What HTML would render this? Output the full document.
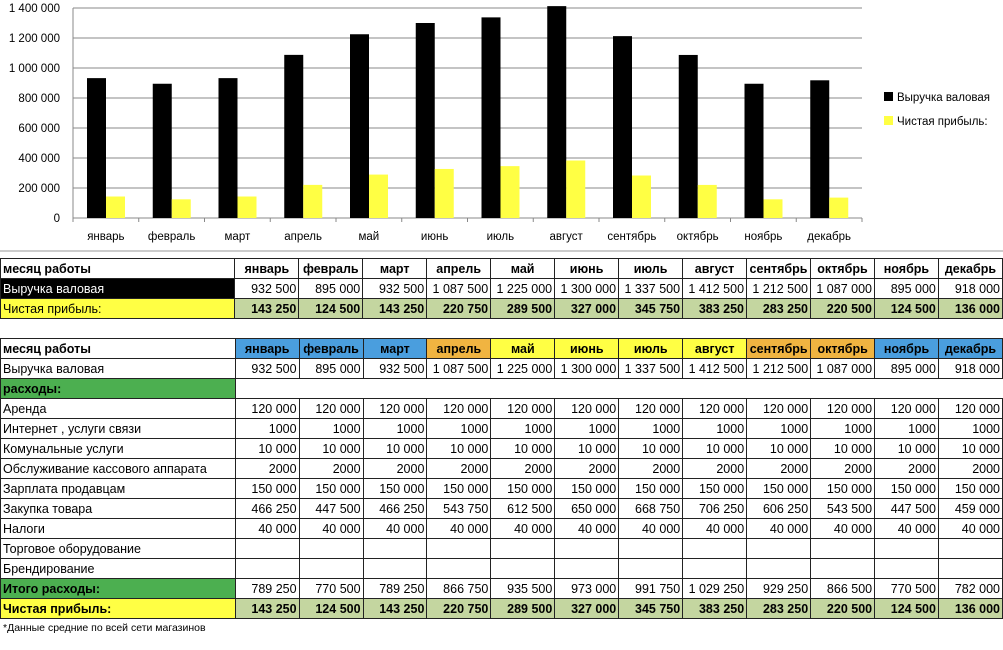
<!DOCTYPE html>
<html><head><meta charset="utf-8"><style>
body{margin:0;width:1003px;height:650px;background:#fff;overflow:hidden;font-family:"Liberation Sans","DejaVu Sans",sans-serif;}
#chart{position:absolute;left:0;top:0}
table{position:absolute;left:0;border-collapse:collapse;table-layout:fixed;font-size:12.5px}
td{height:19px;padding:0 2px;border:1px solid #222;white-space:nowrap;overflow:hidden;text-align:right}
td.l{text-align:left;width:230px}
.h td{font-weight:bold;text-align:center}
.h td.l{text-align:left}
.blk td.l{background:#000;color:#fff}
.yl td.l{background:#ffff44}
.yl td{background:#c4d6a0;font-weight:bold}
.gr td.l{background:#4caf50;font-weight:bold}
.b{background:#4a9ede}.o{background:#f0b441}.y{background:#ffff44}
</style></head><body>
<svg id="chart" width="1003" height="252">
<line x1="0" y1="251" x2="1003" y2="251" stroke="#999"/>
<g id="g"></g>
<g>
<rect x="884" y="92" width="9" height="9" fill="#000"/>
<text x="897" y="101" font-size="11.5">Выручка валовая</text>
<rect x="884" y="116" width="9" height="9" fill="#ffff44"/>
<text x="897" y="125" font-size="11.5">Чистая прибыль:</text>
</g>
</svg>
<script>
const months=["январь","февраль","март","апрель","май","июнь","июль","август","сентябрь","октябрь","ноябрь","декабрь"];
const revenue=[932500,895000,932500,1087500,1225000,1300000,1337500,1412500,1212500,1087000,895000,918000];
const profit=[143250,124500,143250,220750,289500,327000,345750,383250,283250,220500,124500,136000];
const ticks=[0,200000,400000,600000,800000,1000000,1200000,1400000];
const tickLabels=["0","200 000","400 000","600 000","800 000","1 000 000","1 200 000","1 400 000"];
const NS="http://www.w3.org/2000/svg",g=document.getElementById('g');
const X0=73,X1=862,Y0=218,Y1=8,cw=(X1-X0)/months.length;
const y=v=>Y0-(v/1400000)*(Y0-Y1);
function mk(t,a){const e=document.createElementNS(NS,t);for(const k in a)e.setAttribute(k,a[k]);g.appendChild(e);return e;}
ticks.forEach((t,i)=>{const l=mk('line',{x1:X0,x2:X1,y1:y(t),y2:y(t),stroke:'#888'});


const tx=mk('text',{x:60,y:y(t)+4,'text-anchor':'end','font-size':11.5});tx.textContent=tickLabels[i];

});
mk('line',{x1:X0,x2:X0,y1:Y1,y2:Y0+4,stroke:'#888'});
months.forEach((m,i)=>{const cx=X0+i*cw;
const tk=mk('line',{x1:cx+cw,x2:cx+cw,y1:Y0,y2:Y0+4,stroke:'#888'});


const b=mk('rect',{x:cx+14,y:y(revenue[i]),width:19,height:Y0-y(revenue[i]),fill:'#000'});


const p=mk('rect',{x:cx+33,y:y(profit[i]),width:19,height:Y0-y(profit[i]),fill:'#ffff44'});


const t=mk('text',{x:cx+cw/2,y:240,'text-anchor':'middle','font-size':11.5});t.textContent=m;

});
</script>

<table style="top:258px">
<colgroup><col style="width:235px"><col span="12" style="width:64px"></colgroup>
<tr class="h"><td class="l">месяц работы</td><td>январь</td><td>февраль</td><td>март</td><td>апрель</td><td>май</td><td>июнь</td><td>июль</td><td>август</td><td>сентябрь</td><td>октябрь</td><td>ноябрь</td><td>декабрь</td></tr>
<tr class="blk"><td class="l">Выручка валовая</td><td>932 500</td><td>895 000</td><td>932 500</td><td>1 087 500</td><td>1 225 000</td><td>1 300 000</td><td>1 337 500</td><td>1 412 500</td><td>1 212 500</td><td>1 087 000</td><td>895 000</td><td>918 000</td></tr>
<tr class="yl"><td class="l" style="font-weight:normal">Чистая прибыль:</td><td>143 250</td><td>124 500</td><td>143 250</td><td>220 750</td><td>289 500</td><td>327 000</td><td>345 750</td><td>383 250</td><td>283 250</td><td>220 500</td><td>124 500</td><td>136 000</td></tr>
</table>

<table style="top:338px">
<colgroup><col style="width:235px"><col span="12" style="width:64px"></colgroup>
<tr class="h"><td class="l">месяц работы</td><td class="b">январь</td><td class="b">февраль</td><td class="b">март</td><td class="o">апрель</td><td class="y">май</td><td class="y">июнь</td><td class="y">июль</td><td class="y">август</td><td class="o">сентябрь</td><td class="o">октябрь</td><td class="b">ноябрь</td><td class="b">декабрь</td></tr>
<tr><td class="l">Выручка валовая</td><td>932 500</td><td>895 000</td><td>932 500</td><td>1 087 500</td><td>1 225 000</td><td>1 300 000</td><td>1 337 500</td><td>1 412 500</td><td>1 212 500</td><td>1 087 000</td><td>895 000</td><td>918 000</td></tr>
<tr class="gr"><td class="l">расходы:</td><td colspan="12" style="border:none"></td></tr>
<tr><td class="l">Аренда</td><td>120 000</td><td>120 000</td><td>120 000</td><td>120 000</td><td>120 000</td><td>120 000</td><td>120 000</td><td>120 000</td><td>120 000</td><td>120 000</td><td>120 000</td><td>120 000</td></tr>
<tr><td class="l">Интернет , услуги связи</td><td>1000</td><td>1000</td><td>1000</td><td>1000</td><td>1000</td><td>1000</td><td>1000</td><td>1000</td><td>1000</td><td>1000</td><td>1000</td><td>1000</td></tr>
<tr><td class="l">Комунальные услуги</td><td>10 000</td><td>10 000</td><td>10 000</td><td>10 000</td><td>10 000</td><td>10 000</td><td>10 000</td><td>10 000</td><td>10 000</td><td>10 000</td><td>10 000</td><td>10 000</td></tr>
<tr><td class="l">Обслуживание кассового аппарата</td><td>2000</td><td>2000</td><td>2000</td><td>2000</td><td>2000</td><td>2000</td><td>2000</td><td>2000</td><td>2000</td><td>2000</td><td>2000</td><td>2000</td></tr>
<tr><td class="l">Зарплата продавцам</td><td>150 000</td><td>150 000</td><td>150 000</td><td>150 000</td><td>150 000</td><td>150 000</td><td>150 000</td><td>150 000</td><td>150 000</td><td>150 000</td><td>150 000</td><td>150 000</td></tr>
<tr><td class="l">Закупка товара</td><td>466 250</td><td>447 500</td><td>466 250</td><td>543 750</td><td>612 500</td><td>650 000</td><td>668 750</td><td>706 250</td><td>606 250</td><td>543 500</td><td>447 500</td><td>459 000</td></tr>
<tr><td class="l">Налоги</td><td>40 000</td><td>40 000</td><td>40 000</td><td>40 000</td><td>40 000</td><td>40 000</td><td>40 000</td><td>40 000</td><td>40 000</td><td>40 000</td><td>40 000</td><td>40 000</td></tr>
<tr><td class="l">Торговое оборудование</td><td></td><td></td><td></td><td></td><td></td><td></td><td></td><td></td><td></td><td></td><td></td><td></td></tr>
<tr><td class="l">Брендирование</td><td></td><td></td><td></td><td></td><td></td><td></td><td></td><td></td><td></td><td></td><td></td><td></td></tr>
<tr class="gr"><td class="l">Итого расходы:</td><td>789 250</td><td>770 500</td><td>789 250</td><td>866 750</td><td>935 500</td><td>973 000</td><td>991 750</td><td>1 029 250</td><td>929 250</td><td>866 500</td><td>770 500</td><td>782 000</td></tr>
<tr class="yl"><td class="l" style="font-weight:bold">Чистая прибыль:</td><td>143 250</td><td>124 500</td><td>143 250</td><td>220 750</td><td>289 500</td><td>327 000</td><td>345 750</td><td>383 250</td><td>283 250</td><td>220 500</td><td>124 500</td><td>136 000</td></tr>
</table>
<div style="position:absolute;left:3px;top:622px;font-size:10.5px">*Данные средние по всей сети магазинов</div>
</body></html>
